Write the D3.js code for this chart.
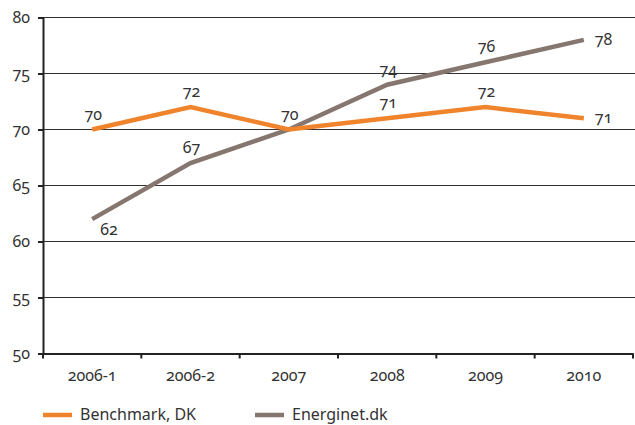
<!DOCTYPE html>
<html><head><meta charset="utf-8">
<script src="https://cdn.jsdelivr.net/npm/d3@7"></script>
<style>
body{margin:0;background:#fff}
svg text{font-family:"Noto Sans",sans-serif;fill:#333;font-variant-numeric:oldstyle-nums;font-feature-settings:"onum" 1}
</style></head><body>
<svg id="c" width="635" height="425"></svg>
<script>
const categories = ["2006-1","2006-2","2007","2008","2009","2010"];
const benchmark = [70,72,70,71,72,71];
const energinet = [62,67,70,74,76,78];
const yTicks = [50,55,60,65,70,75,80];
const seriesNames = ["Benchmark, DK","Energinet.dk"];

const colors = ["#F0842C","#85776F"];
const svg = d3.select("#c");
const m = {l:43, r:2, t:17.5, b:71.5};
const W = 635, H = 425;
const x = d3.scaleBand().domain(categories).range([m.l, W - m.r]);
const y = d3.scaleLinear().domain([50,80]).range([H - m.b, m.t]);

// grid
svg.append("g").selectAll("line").data(yTicks.filter(d=>d>50)).join("line")
  .attr("x1", m.l).attr("x2", W).attr("y1", d=>y(d)).attr("y2", d=>y(d))
  .attr("stroke","#333").attr("stroke-width",1.2);

// y axis
const ya = svg.append("g").attr("transform",`translate(${m.l},0)`)
  .call(d3.axisLeft(y).tickValues(yTicks).tickSize(5).tickPadding(8));
ya.select(".domain").attr("stroke","#222").attr("stroke-width",2);
ya.selectAll(".tick line").attr("stroke","#222").attr("stroke-width",2);
ya.selectAll("text").attr("font-size",16).attr("fill","#333").attr("dy","0.32em");

// x axis
const xa = svg.append("g").attr("transform",`translate(0,${y(50)})`)
  .call(d3.axisBottom(x).tickSize(0).tickPadding(16));
xa.select(".domain").attr("stroke","#222").attr("stroke-width",2);
xa.selectAll("text").attr("font-size",16).attr("fill","#333");
const bounds = categories.map(c=>x(c)).concat([x(categories[categories.length-1])+x.bandwidth()]);
xa.selectAll(".bt").data(bounds).join("line").attr("class","bt")
  .attr("x1",d=>d).attr("x2",d=>d).attr("y1",0).attr("y2",5)
  .attr("stroke","#222").attr("stroke-width",2);

const cx = c => x(c) + x.bandwidth()/2;
const line = d3.line().x((d,i)=>cx(categories[i])).y(d=>y(d));

[energinet, benchmark].forEach((s,k)=>{
  svg.append("path").datum(s).attr("d",line).attr("fill","none")
    .attr("stroke", k===0?colors[1]:colors[0]).attr("stroke-width",4.5)
    .attr("stroke-linejoin","miter");
});

// labels
const lab = svg.append("g").attr("font-size",16);
function label(s, i, pos){
  const px = cx(categories[i]), py = y(s[i]);
  const t = lab.append("text").text(s[i]);
  if(pos==="above") t.attr("x",px+1).attr("y",py-10).attr("text-anchor","middle");
  else if(pos==="below") t.attr("x",px+8).attr("y",py+16).attr("text-anchor","start");
  else t.attr("x",px+11).attr("y",py+5).attr("text-anchor","start");
}
label(benchmark,0,"above");
label(benchmark,1,"above");
label(benchmark,2,"above");
label(benchmark,3,"above");
label(benchmark,4,"above");
label(benchmark,5,"right");
label(energinet,0,"below");
label(energinet,1,"above");
label(energinet,3,"above");
label(energinet,4,"above");
label(energinet,5,"right");

// legend
const lg = svg.append("g");
const lx = [43, 255];
seriesNames.forEach((n,i)=>{
  lg.append("line").attr("x1",lx[i]).attr("x2",lx[i]+29).attr("y1",415).attr("y2",415)
    .attr("stroke",colors[i]).attr("stroke-width",4.5);
  lg.append("text").attr("x",lx[i]+37).attr("y",420).attr("font-size",16).attr("fill","#333").text(n);
});
</script></body></html>
